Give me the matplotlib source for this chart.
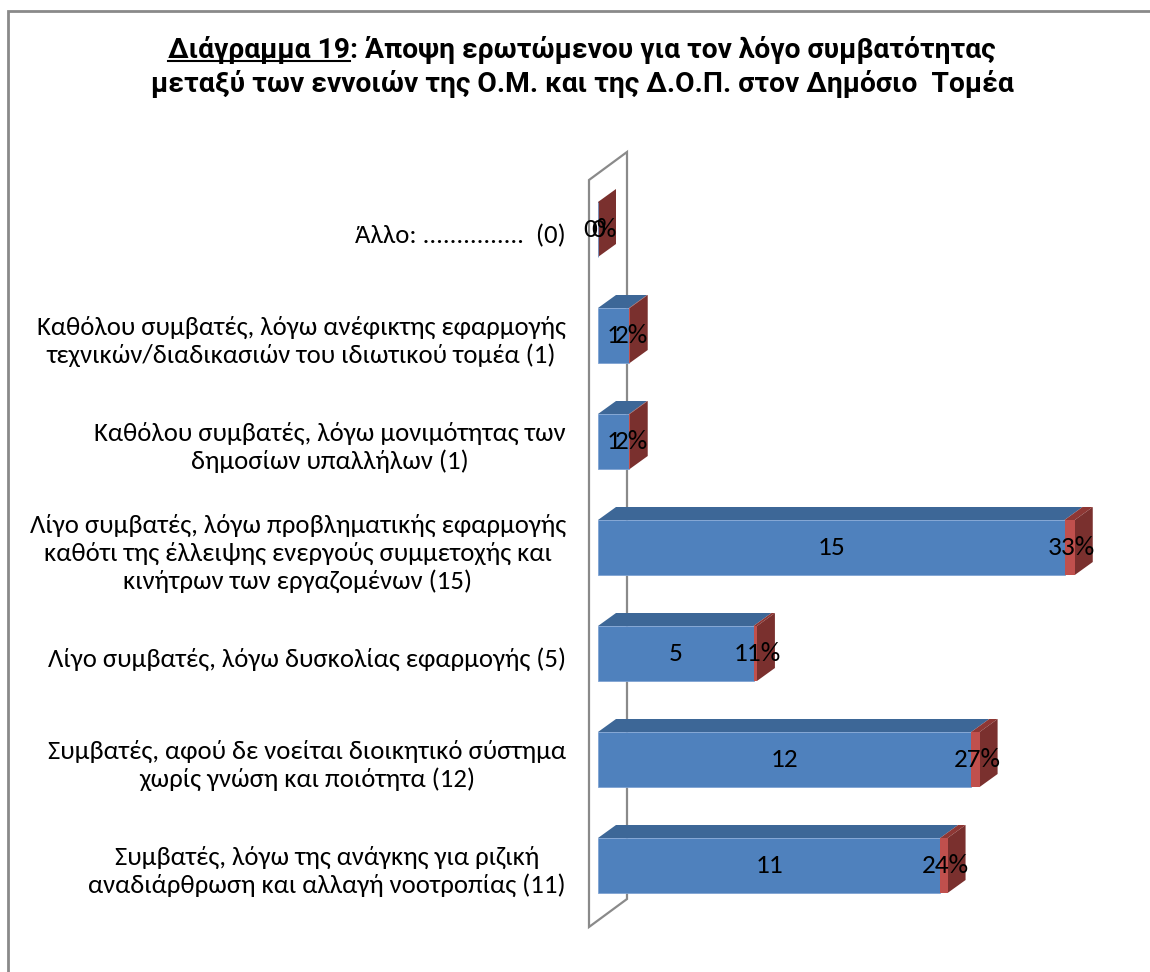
import numpy as np
import matplotlib
matplotlib.use("Agg")
import matplotlib.pyplot as plt
from matplotlib import font_manager
from matplotlib.patches import Polygon, Rectangle
from matplotlib.lines import Line2D

# Datos del gráfico (de arriba hacia abajo, como en la imagen)
categorias = [
    "Άλλο: ...............  (0)",
    "Καθόλου συμβατές, λόγω ανέφικτης εφαρμογής\nτεχνικών/διαδικασιών του ιδιωτικού τομέα (1)",
    "Καθόλου συμβατές, λόγω μονιμότητας των\nδημοσίων υπαλλήλων (1)",
    "Λίγο συμβατές, λόγω προβληματικής εφαρμογής\nκαθότι της έλλειψης ενεργούς συμμετοχής και\nκινήτρων των εργαζομένων (15)",
    "Λίγο συμβατές, λόγω δυσκολίας εφαρμογής (5)",
    "Συμβατές, αφού δε νοείται διοικητικό σύστημα\nχωρίς γνώση και ποιότητα (12)",
    "Συμβατές, λόγω της ανάγκης για ριζική\nαναδιάρθρωση και αλλαγή νοοτροπίας (11)",
]
cantidades = [0, 1, 1, 15, 5, 12, 11]
porcentajes = [0.00, 0.02, 0.02, 0.33, 0.11, 0.27, 0.24]

titulo_prefijo = "Διάγραμμα 19"
titulo_linea1 = "Διάγραμμα 19: Άποψη ερωτώμενου για τον λόγο συμβατότητας"
titulo_linea2 = "μεταξύ των εννοιών της Ο.Μ. και της Δ.Ο.Π. στον Δημόσιο  Τομέα"

# Colores estilo Excel 2007
AZUL = "#4F81BD"
AZUL_BORDE = "#7FA3D3"
AZUL_ARRIBA = "#3D6797"
ROJO = "#C0504D"
ROJO_LADO = "#7A302E"
ROJO_ARRIBA = "#8E3734"
GRIS = "#8A8A8A"

# Geometría en píxeles
W, H = 1150, 972
X0_PX = 598.0          # posición del cero
PX_X = 31.1            # píxeles por unidad
PX_Y = 106.0           # píxeles entre categorías
Y_BASE_PX = 865.5      # centro de la categoría inferior
L, R, T, B = 575, 1145, 130, 950
PROF_X, PROF_Y = 18 / PX_X, 13 / PX_Y      # profundidad de las barras
ALTO = 55 / PX_Y

nombres = {f.name for f in font_manager.fontManager.ttflist}
FUENTE_TITULO = "Liberation Sans"
for candidata in ["Liberation Sans Narrow", "DejaVu Sans Condensed", "Roboto"]:
    if candidata in nombres:
        FUENTE_TITULO = candidata
        break
FUENTE = ["Carlito", "Open Sans", "DejaVu Sans"] if "Carlito" in nombres else ["Open Sans", "DejaVu Sans"]

fig = plt.figure(figsize=(W / 100, H / 100), dpi=100)
fig.patch.set_facecolor("white")
renderer = fig.canvas.get_renderer()


def ajustar_tamano(texto, familia, ancho_px, peso="normal"):
    t = fig.text(0, 0, texto, fontsize=10, family=familia, weight=peso)
    ancho = t.get_window_extent(renderer).width
    t.remove()
    return 10 * ancho_px / ancho


tam_cat = ajustar_tamano("Καθόλου συμβατές, λόγω ανέφικτης εφαρμογής", FUENTE, 529)
tam_tit = ajustar_tamano(titulo_linea2, FUENTE_TITULO, 865, "bold")

ax = fig.add_axes([L / W, 1 - B / H, (R - L) / W, (B - T) / H])
ax.set_xlim((L - X0_PX) / PX_X, (R - X0_PX) / PX_X)
ax.set_ylim((Y_BASE_PX - B) / PX_Y, (Y_BASE_PX - T) / PX_Y)
ax.axis("off")

n = len(categorias)
pos = np.arange(n)[::-1]   # la primera categoría arriba

# Pared lateral 3D (suelo del gráfico)
pared_x0, pared_dx, pared_dy = -9 / PX_X, 38 / PX_X, 28 / PX_Y
pared_arriba = (n - 1) + 49.5 / PX_Y
pared_abajo = -61.5 / PX_Y
ax.add_patch(Polygon([(pared_x0, pared_abajo), (pared_x0, pared_arriba),
                      (pared_x0 + pared_dx, pared_arriba + pared_dy),
                      (pared_x0 + pared_dx, pared_abajo + pared_dy)],
                     closed=True, facecolor="white", edgecolor=GRIS, lw=1.6, zorder=1))

# Caras frontales
ax.barh(pos, cantidades, height=ALTO, color=AZUL, edgecolor=AZUL_BORDE,
        zorder=3, linewidth=0.6)
ax.barh(pos, porcentajes, left=cantidades, height=ALTO, color=ROJO, zorder=3, linewidth=0)

# Caras superiores y laterales
for y, c, p in zip(pos, cantidades, porcentajes):
    arriba = y + ALTO / 2
    abajo = y - ALTO / 2
    if c > 0:
        ax.add_patch(Polygon([(0, arriba), (c, arriba), (c + PROF_X, arriba + PROF_Y),
                              (PROF_X, arriba + PROF_Y)], facecolor=AZUL_ARRIBA, lw=0, zorder=2))
    fin = c + p
    if p > 0:
        ax.add_patch(Polygon([(c, arriba), (fin, arriba), (fin + PROF_X, arriba + PROF_Y),
                              (c + PROF_X, arriba + PROF_Y)], facecolor=ROJO_ARRIBA, lw=0, zorder=2))
    ax.add_patch(Polygon([(fin, abajo), (fin, arriba), (fin + PROF_X, arriba + PROF_Y),
                          (fin + PROF_X, abajo + PROF_Y)], facecolor=ROJO_LADO, lw=0, zorder=2))

# Etiquetas de valores
tam_val = tam_cat * 1.02
for y, c, p in zip(pos, cantidades, porcentajes):
    ax.text(c / 2, y, f"{c}", ha="center", va="center", fontsize=tam_val,
            family=FUENTE, color="black", zorder=5)
    ax.text(c + p / 2 + 2 / PX_X, y, f"{p:.0%}", ha="center", va="center", fontsize=tam_val,
            family=FUENTE, color="black", zorder=5)

# Etiquetas de categorías
desplaz = 6 / PX_Y
for y, etiqueta in zip(pos, categorias):
    ax.text((566 - X0_PX) / PX_X, y - desplaz, etiqueta, ha="right", va="center",
            multialignment="center", fontsize=tam_cat, family=FUENTE,
            linespacing=1.25, color="black", clip_on=False)

# Título con subrayado en el prefijo
xc = 582 / W
t1 = fig.text(xc, 1 - 58 / H, titulo_linea1, ha="center", va="baseline",
              fontsize=tam_tit, family=FUENTE_TITULO, weight="bold")
fig.text(xc, 1 - 92 / H, titulo_linea2, ha="center", va="baseline",
         fontsize=tam_tit, family=FUENTE_TITULO, weight="bold")
bb = t1.get_window_extent(renderer)
tmp = fig.text(0, 0, titulo_prefijo, fontsize=tam_tit, family=FUENTE_TITULO, weight="bold")
ancho_pref = tmp.get_window_extent(renderer).width
tmp.remove()
y_sub = (H - 58 - 3) / H
fig.add_artist(Line2D([bb.x0 / W, (bb.x0 + ancho_pref) / W], [y_sub, y_sub],
                      color="black", lw=1.5))

# Marco exterior
fig.add_artist(Rectangle((8 / W, -0.1), 1.2, 1.1 - 11 / H, fill=False,
                         edgecolor=GRIS, lw=2))

fig.savefig("out.png", dpi=100, facecolor="white")
